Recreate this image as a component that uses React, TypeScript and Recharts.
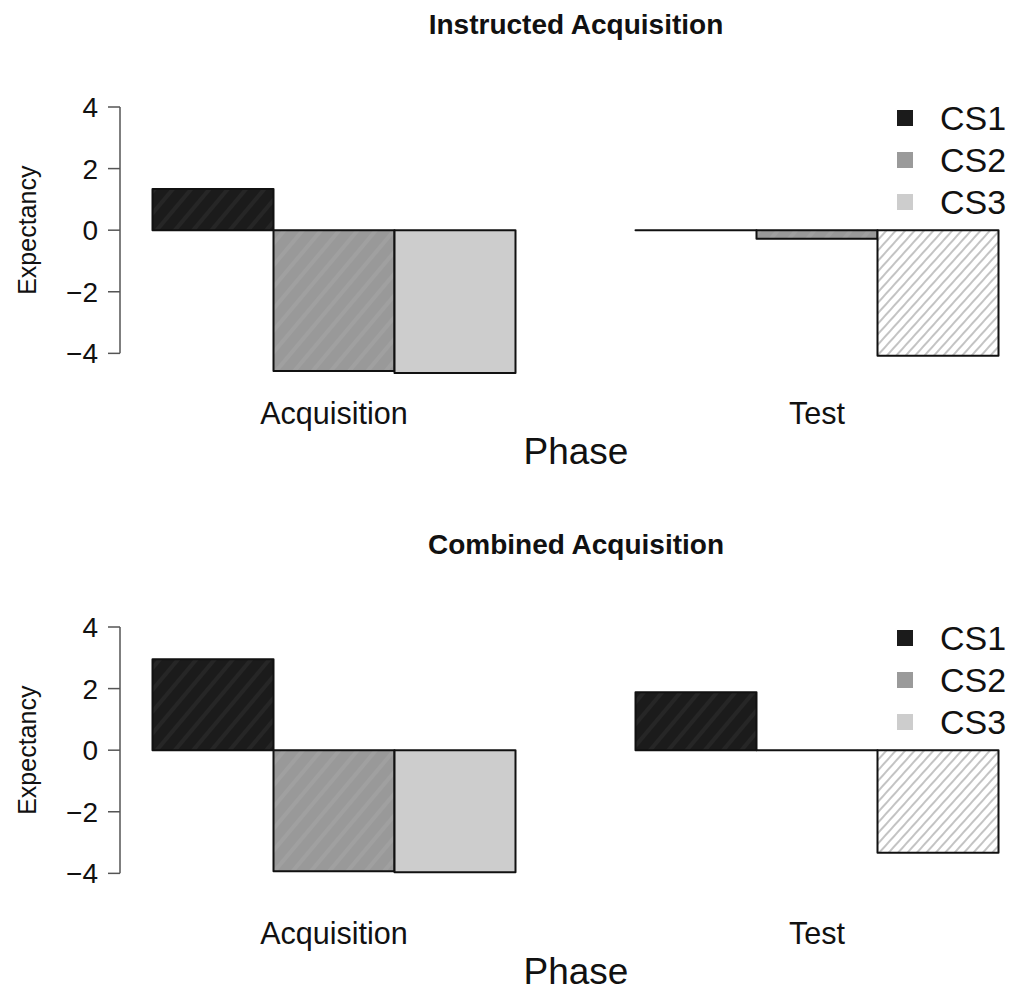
import React from "react";
import {
  ComposedChart,
  Bar,
  Cell,
  XAxis,
  YAxis,
  Legend,
  Label,
  ReferenceLine,
} from "recharts";

// values
const phases = ["Acquisition", "Test"];
const seriesNames = ["CS1", "CS2", "CS3"];

const instructedCS1 = [1.34, 0];
const instructedCS2 = [-4.57, -0.28];
const instructedCS3 = [-4.64, -4.08];

const combinedCS1 = [2.95, 1.88];
const combinedCS2 = [-3.93, 0];
const combinedCS3 = [-3.96, -3.33];

const yTicks = [-4, -2, 0, 2, 4];

const legendColors = ["#1b1b1b", "#9a9a9a", "#cdcdcd"];
const FONT = '"Liberation Sans", Arial, Helvetica, sans-serif';

const buildRows = (cs1: number[], cs2: number[], cs3: number[]) =>
  phases.map((phase, i) => ({ phase, CS1: cs1[i], CS2: cs2[i], CS3: cs3[i] }));

// draws zero-height bars as a line, like R's barplot does
const BarBox = (props: any) => {
  const { x, y, width, height, fill } = props;
  if (x == null || y == null) return null;
  const top = Math.min(y, y + height);
  const h = Math.abs(height);
  return (
    <path
      d={`M${x},${top}h${width}v${h}h${-width}Z`}
      fill={fill}
      stroke="#111"
      strokeWidth={2}
      strokeLinejoin="round"
    />
  );
};

const fmtTick = (v: number) => String(v).replace("-", "\u2212");

const LegendBox = () => (
  <div style={{ fontFamily: FONT }}>
    {seriesNames.map((name, i) => (
      <div key={name} style={{ display: "flex", alignItems: "center", height: 42 }}>
        <div style={{ width: 16, height: 16, background: legendColors[i] }} />
        <span style={{ marginLeft: 27, fontSize: 34, color: "#111", lineHeight: "42px" }}>
          {name}
        </span>
      </div>
    ))}
  </div>
);

interface PanelProps {
  id: string;
  title: string;
  rows: any[];
  top: number;
}

const Panel = ({ id, title, rows, top }: PanelProps) => {
  const fills: Record<string, string[]> = {
    CS1: [`url(#${id}-dark)`, `url(#${id}-dark)`],
    CS2: [`url(#${id}-mid)`, `url(#${id}-mid)`],
    CS3: ["#cdcdcd", `url(#${id}-hatch)`],
  };

  return (
    <div style={{ position: "absolute", left: 0, top, width: 1016, height: 490 }}>
      <div
        style={{
          position: "absolute",
          left: 120,
          width: 912,
          top: 11,
          textAlign: "center",
          fontFamily: FONT,
          fontWeight: "bold",
          fontSize: 28,
          lineHeight: "28px",
          color: "#111",
        }}
      >
        {title}
      </div>
      <ComposedChart
        width={1016}
        height={490}
        data={rows}
        margin={{ top: 107, right: -16, bottom: 82, left: 0 }}
        barCategoryGap={60}
        barGap={0}
        style={{ fontFamily: FONT }}
      >
        <defs>
          <pattern id={`${id}-dark`} patternUnits="userSpaceOnUse" width={14} height={14} patternTransform="rotate(40)">
            <rect width={14} height={14} fill="#1b1b1b" />
            <line x1={2} y1={0} x2={2} y2={14} stroke="#262626" strokeWidth={4} />
          </pattern>
          <pattern id={`${id}-mid`} patternUnits="userSpaceOnUse" width={14} height={14} patternTransform="rotate(40)">
            <rect width={14} height={14} fill="#999999" />
            <line x1={2} y1={0} x2={2} y2={14} stroke="#a0a0a0" strokeWidth={4} />
          </pattern>
          <pattern id={`${id}-hatch`} patternUnits="userSpaceOnUse" width={7} height={7} patternTransform="rotate(42)">
            <rect width={7} height={7} fill="#ffffff" />
            <line x1={1} y1={0} x2={1} y2={7} stroke="#a4a4a4" strokeWidth={1.3} />
          </pattern>
        </defs>
        <XAxis
          dataKey="phase"
          axisLine={false}
          tickLine={false}
          tickSize={0}
          tickMargin={24}
          padding={{ left: -27.5, right: -26.5 }}
          tick={{ fontSize: 30.5, fill: "#111" }}
        >
          <Label value="Phase" position="bottom" offset={30} style={{ fontSize: 37, fill: "#111" }} />
        </XAxis>
        <XAxis xAxisId="edge" type="number" domain={[0, 1]} hide />
        <YAxis
          type="number"
          domain={[-4.8, 4]}
          ticks={yTicks}
          width={120}
          axisLine={false}
          tickSize={12}
          tickMargin={10}
          tickLine={{ stroke: "#555", strokeWidth: 1.5 }}
          tick={{ fontSize: 28, fill: "#111" }}
          tickFormatter={fmtTick}
          interval={0}
        >
          <Label
            content={({ viewBox }: any) => {
              const cx = viewBox.x + 27;
              const cy = viewBox.y + viewBox.height * (4 / 8.8);
              return (
                <text
                  x={cx}
                  y={cy}
                  transform={`rotate(-90, ${cx}, ${cy})`}
                  textAnchor="middle"
                  dominantBaseline="central"
                  fontSize={25}
                  fill="#111"
                  fontFamily={FONT}
                >
                  Expectancy
                </text>
              );
            }}
          />
        </YAxis>
        <ReferenceLine
          xAxisId="edge"
          segment={[
            { x: 0, y: yTicks[0] },
            { x: 0, y: yTicks[yTicks.length - 1] },
          ]}
          stroke="#555"
          strokeWidth={1.5}
        />
        {seriesNames.map((name) => (
          <Bar key={name} dataKey={name} name={name} shape={BarBox} isAnimationActive={false}>
            {rows.map((r, i) => (
              <Cell key={`${name}-${r.phase}`} fill={fills[name][i]} />
            ))}
          </Bar>
        ))}
        <Legend
          layout="horizontal"
          verticalAlign="middle"
          align="center"
          content={() => <LegendBox />}
          wrapperStyle={{ position: "absolute", left: 897, top: 97, width: 120 }}
        />
      </ComposedChart>
    </div>
  );
};

const App = () => (
  <div
    style={{
      position: "absolute",
      left: 0,
      top: 0,
      width: 1016,
      height: 987,
      overflow: "hidden",
      background: "#fff",
    }}
  >
    <Panel
      id="instructed"
      title="Instructed Acquisition"
      rows={buildRows(instructedCS1, instructedCS2, instructedCS3)}
      top={0}
    />
    <Panel
      id="combined"
      title="Combined Acquisition"
      rows={buildRows(combinedCS1, combinedCS2, combinedCS3)}
      top={520}
    />
  </div>
);

export default App;
